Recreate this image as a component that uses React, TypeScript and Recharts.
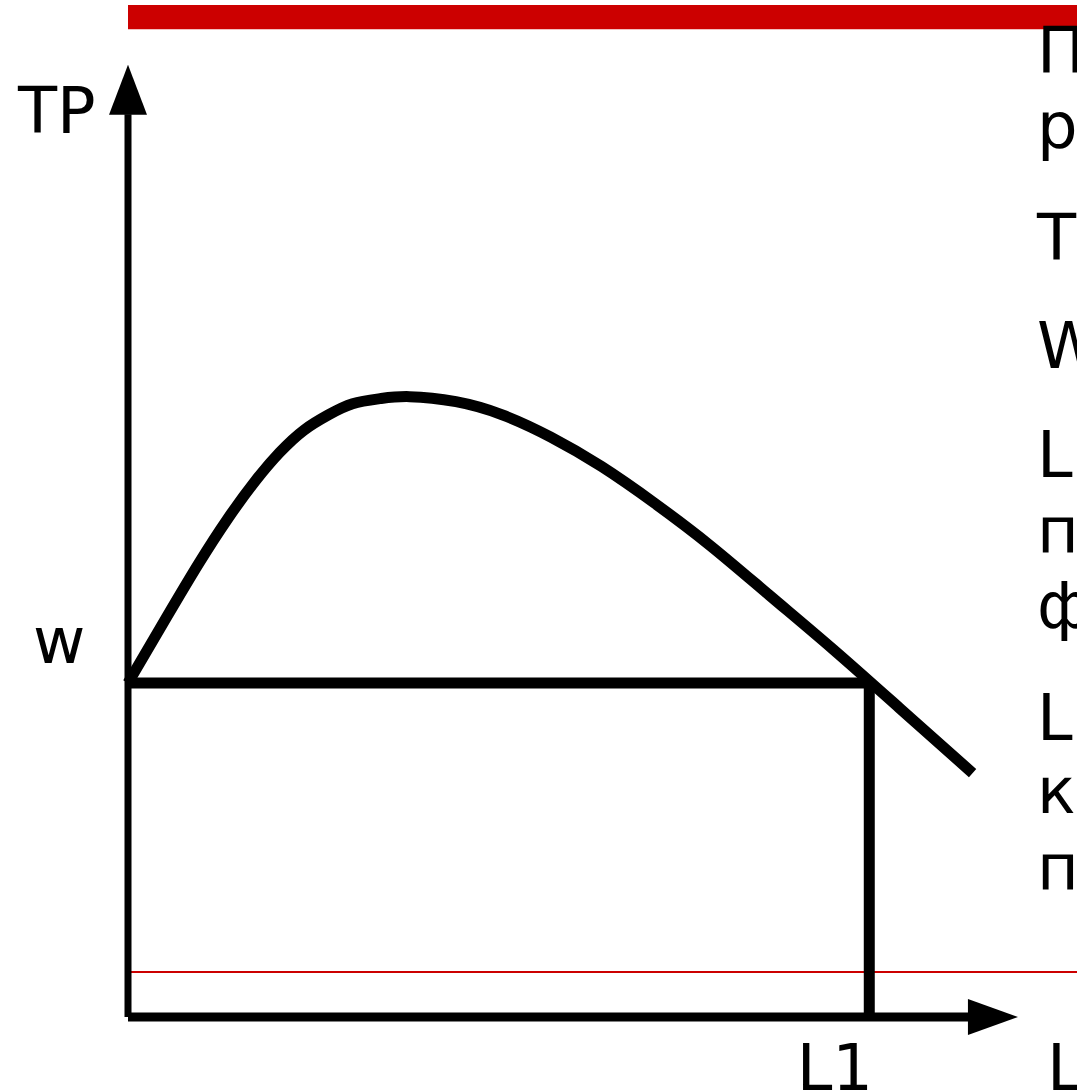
import {
  ComposedChart,
  Line,
  XAxis,
  YAxis,
  ReferenceLine,
  ReferenceArea,
  ReferenceDot,
} from "recharts";

// labour input L and total product TP
const lValues = [
  0, 0.36, 0.67, 0.95, 1.21, 1.44, 1.67, 1.9, 2.13, 2.39, 2.67,
  3.11, 3.55, 4.01, 4.49, 4.99, 5.52, 6.08, 6.69, 7.33, 8.01,
];
const tpValues = [
  3.3, 3.94, 4.48, 4.93, 5.3, 5.58, 5.8, 5.95, 6.06, 6.11, 6.13,
  6.08, 5.95, 5.73, 5.44, 5.08, 4.66, 4.17, 3.63, 3.04, 2.41,
];

const wageLevel = 3.3;
const l1 = 7.03;
const redLine = 0.445;
const redBand = [9.76, 10];
const yArrowTip = 9.41;
const xArrowTip = 8.44;

const axisLabels = ["TP", "w", "L1", "L"];
const noteLines = [
  "Пределы",
  "роста",
  "ТР – общий продукт",
  "W – ставка зарплаты",
  "L – число",
  "персонала",
  "фирмы",
  "L – количество",
  "конкретных",
  "позиций",
];
const noteBaselines = [73, 148, 260, 368, 477, 553, 628, 740, 813, 890];

const data = lValues.map((l, i) => ({ l, tp: tpValues[i] }));

const FONT = "'DejaVu Sans', sans-serif";
const RED = "#cc0000";

function UpArrow(props: any) {
  const { cx, cy } = props;
  return (
    <polygon
      points={`${cx},${cy} ${cx - 19},${cy + 50} ${cx + 19},${cy + 50}`}
      fill="#000"
    />
  );
}

function RightArrow(props: any) {
  const { cx, cy } = props;
  return (
    <polygon
      points={`${cx},${cy} ${cx - 50},${cy - 18} ${cx - 50},${cy + 18}`}
      fill="#000"
    />
  );
}

export default function App() {
  return (
    <div
      style={{
        position: "absolute",
        left: 0,
        top: 0,
        width: 1077,
        height: 1091,
        overflow: "hidden",
        background: "#fff",
      }}
    >
      <ComposedChart
        width={1077}
        height={1091}
        data={data}
        margin={{ top: 5, right: 0, bottom: 74, left: 128 }}
      >
        <XAxis dataKey="l" type="number" domain={[0, 9]} hide />
        <YAxis type="number" domain={[0, 10]} hide />

        <ReferenceArea
          y1={redBand[0]}
          y2={redBand[1]}
          fill={RED}
          fillOpacity={1}
          stroke="none"
        />
        <ReferenceLine y={redLine} stroke={RED} strokeWidth={2} />

        {/* axes */}
        <ReferenceLine
          segment={[
            { x: 0, y: 0 },
            { x: 0, y: yArrowTip - 0.49 },
          ]}
          stroke="#000"
          strokeWidth={7}
        />
        <ReferenceLine
          segment={[
            { x: 0, y: 0 },
            { x: xArrowTip - 0.47, y: 0 },
          ]}
          stroke="#000"
          strokeWidth={9}
        />
        <ReferenceDot x={0} y={yArrowTip} shape={UpArrow} />
        <ReferenceDot x={xArrowTip} y={0} shape={RightArrow} />

        {/* wage level and L1 */}
        <ReferenceLine
          segment={[
            { x: 0, y: wageLevel },
            { x: l1, y: wageLevel },
          ]}
          stroke="#000"
          strokeWidth={11}
        />
        <ReferenceLine
          segment={[
            { x: l1, y: wageLevel },
            { x: l1, y: 0 },
          ]}
          stroke="#000"
          strokeWidth={11}
        />

        <Line
          dataKey="tp"
          type="natural"
          stroke="#000"
          strokeWidth={11}
          dot={false}
          isAnimationActive={false}
        />
      </ComposedChart>

      <svg
        width={1077}
        height={1091}
        style={{ position: "absolute", left: 0, top: 0, pointerEvents: "none" }}
        fontFamily={FONT}
        fontSize={64}
      >
        <text x={18} y={133}>{axisLabels[0]}</text>
        <text x={33} y={663}>{axisLabels[1]}</text>
        <text x={873} y={1090} textAnchor="end">{axisLabels[2]}</text>
        <text x={1047} y={1090}>{axisLabels[3]}</text>
        {noteLines.map((t, i) => (
          <text key={i} x={1037} y={noteBaselines[i]}>
            {t}
          </text>
        ))}
      </svg>
    </div>
  );
}
